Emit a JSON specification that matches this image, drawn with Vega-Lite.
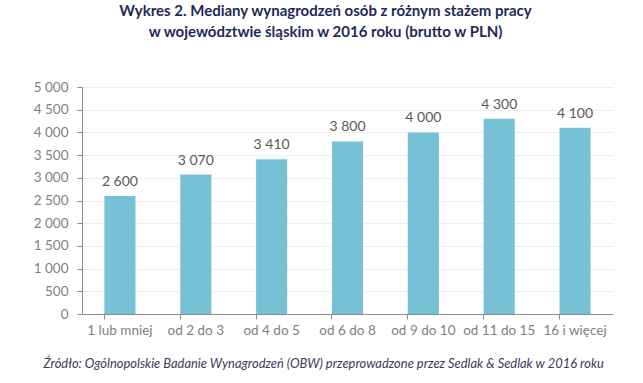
{
  "$schema": "https://vega.github.io/schema/vega-lite/v6.json",
  "width": 531,
  "height": 227,
  "autosize": "none",
  "padding": {"left": 82, "top": 87, "right": 30, "bottom": 69},
  "background": "white",
  "config": {
    "locale": {"number": {"decimal": ",", "thousands": " ", "grouping": [3], "currency": ["", " zł"]}},
    "font": "Lato",
    "view": {"stroke": null}
  },
  "title": {
    "text": ["Wykres 2. Mediany wynagrodzeń osób z różnym stażem pracy", "w województwie śląskim w 2016 roku (brutto w PLN)"],
    "font": "Lato",
    "fontSize": 15,
    "fontWeight": "bold",
    "color": "#1F2A5A",
    "anchor": "middle",
    "dx": -22,
    "offset": 40,
    "lineHeight": 21
  },
  "data": {
    "values": [
      {"staz": "1 lub mniej", "wartosc": 2600},
      {"staz": "od 2 do 3", "wartosc": 3070},
      {"staz": "od 4 do 5", "wartosc": 3410},
      {"staz": "od 6 do 8", "wartosc": 3800},
      {"staz": "od 9 do 10", "wartosc": 4000},
      {"staz": "od 11 do 15", "wartosc": 4300},
      {"staz": "16 i więcej", "wartosc": 4100}
    ]
  },
  "encoding": {
    "x": {
      "field": "staz",
      "type": "nominal",
      "sort": null,
      "scale": {"paddingInner": 0.59, "paddingOuter": 0.295},
      "axis": {
        "title": "Źródło: Ogólnopolskie Badanie Wynagrodzeń (OBW) przeprowadzone przez Sedlak & Sedlak w 2016 roku",
        "titleFont": "Lato",
        "titleFontStyle": "italic",
        "titleFontWeight": "normal",
        "titleFontSize": 12.9,
        "titleColor": "#3B3B5B",
        "titleAnchor": "start",
        "titleAlign": "left",
        "titleBaseline": "middle",
        "titleX": -39,
        "titleY": 49,
        "labelAngle": 0,
        "labelFontSize": 13.5,
        "labelColor": "#7F7F7F",
        "labelPadding": 4,
        "domainColor": "#8C8C8C",
        "tickColor": "#8C8C8C",
        "tickSize": 5,
        "bandPosition": 0,
        "grid": false
      }
    },
    "y": {
      "field": "wartosc",
      "type": "quantitative",
      "scale": {"domain": [0, 5000]},
      "axis": {
        "title": null,
        "values": [0, 500, 1000, 1500, 2000, 2500, 3000, 3500, 4000, 4500, 5000],
        "format": ",d",
        "labelFontSize": 13.5,
        "labelColor": "#7F7F7F",
        "labelPadding": 9,
        "domainColor": "#8C8C8C",
        "tickColor": "#8C8C8C",
        "tickSize": 5,
        "gridColor": "#EDEDED",
        "gridWidth": 1
      }
    }
  },
  "layer": [
    {"mark": {"type": "bar", "color": "#77C1D7"}},
    {
      "mark": {"type": "text", "baseline": "bottom", "dy": -7, "fontSize": 14, "color": "#595959", "font": "Lato"},
      "encoding": {"text": {"field": "wartosc", "type": "quantitative", "format": ",d"}}
    }
  ]
}
